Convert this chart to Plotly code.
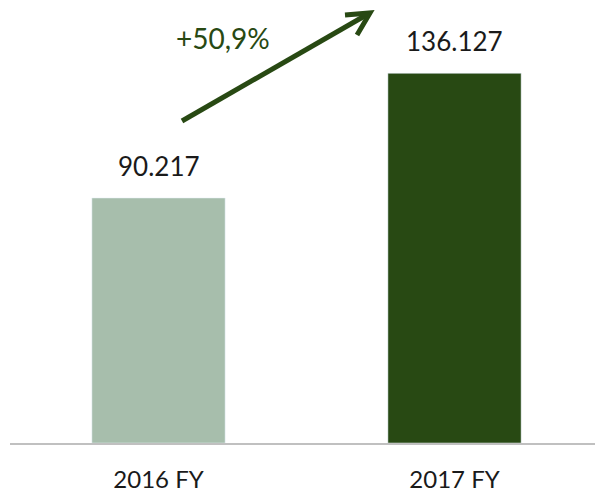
import plotly.graph_objects as go

categories = ["2016 FY", "2017 FY"]
values = [90217, 136127]
colors = ["#a7beac", "#284913"]
growth_label = "+50,9%"

GREEN = "#284913"
FONT = "Lato"

def fmt(v):
    return f"{v:,}".replace(",", ".")

# plot area geometry (pixels)
L, T, W, H = 10, 0, 585, 443

def paper(px, py):
    return (px - L) / W, (T + H - py) / H

fig = go.Figure()
fig.add_trace(go.Bar(
    x=categories, y=values, marker_color=colors, width=0.45,
    hoverinfo="skip",
))

for c, v in zip(categories, values):
    fig.add_annotation(x=c, y=v, text=fmt(v), showarrow=False,
                       yanchor="bottom", yshift=14,
                       font=dict(family=FONT, size=26, color="#1a1a1a"))

# growth arrow (decoration)
x0, y0 = paper(182, 121)
x1, y1 = paper(368, 14)
fig.add_shape(type="line", xref="paper", yref="paper", x0=x0, y0=y0, x1=x1, y1=y1,
              line=dict(color=GREEN, width=5))
a1 = paper(345, 15)
tip = paper(370, 13)
a2 = paper(357, 35)
fig.add_shape(type="path", xref="paper", yref="paper",
              path=f"M {a1[0]} {a1[1]} L {tip[0]} {tip[1]} L {a2[0]} {a2[1]}",
              line=dict(color=GREEN, width=5))

gx, gy = paper(223, 38)
fig.add_annotation(x=gx, y=gy, xref="paper", yref="paper", text=growth_label,
                   showarrow=False, xanchor="center", yanchor="middle",
                   font=dict(family=FONT, size=28, color=GREEN))

fig.update_layout(
    width=595, height=493,
    margin=dict(l=L, r=595 - L - W, t=T, b=493 - T - H),
    paper_bgcolor="white", plot_bgcolor="white",
    showlegend=False,
    xaxis=dict(range=[-0.5017, 1.4746], showline=True, linecolor="#c0c0c0", linewidth=2,
               ticks="", tickfont=dict(family=FONT, size=24, color="#1a1a1a"),
               ticklabelstandoff=14, fixedrange=True, automargin=False),
    yaxis=dict(range=[0, 163130], visible=False, showgrid=False, fixedrange=True),
)

fig.write_html("out.html", config={"displayModeBar": False},
               post_script="document.body.style.margin='0';")
